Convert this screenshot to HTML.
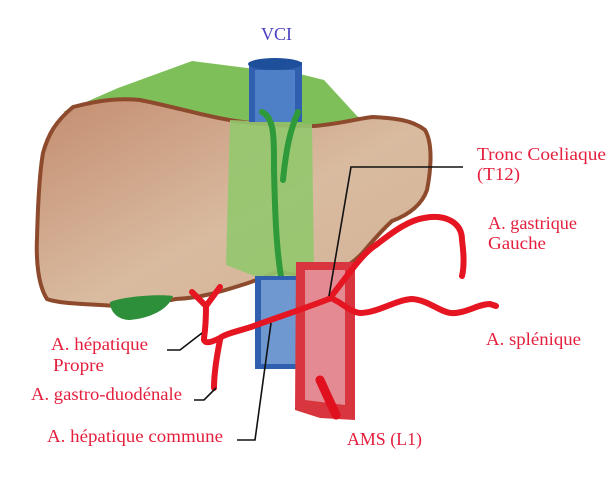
<!DOCTYPE html>
<html><head><meta charset="utf-8"><style>
html,body{margin:0;padding:0;background:#fff;width:614px;height:483px;overflow:hidden}
svg{display:block}
text{font-family:"Liberation Serif",serif;font-size:17.5px;fill:#e41e3c}
</style></head><body>
<svg width="614" height="483" viewBox="0 0 614 483" xmlns="http://www.w3.org/2000/svg">
<defs>
<linearGradient id="lv" x1="0" y1="0" x2="1" y2="1">
<stop offset="0" stop-color="#c48d70"/><stop offset="0.55" stop-color="#d9bba0"/><stop offset="1" stop-color="#d3b296"/>
</linearGradient>
</defs>
<path d="M63,112 L118,88 L192,61 L247,68 L304,75 L324,80 L357,116 L367,122 L300,130 L200,118 Z" fill="#7fbf5a"/>
<path d="M73,107 C100,100 118,98 140,100 C180,108 210,118 243,122 C280,126 300,126 314,126 C340,124 360,118 373,117 C395,118 412,120 425,130 C434,145 430,175 427,190 C420,210 400,218 392,221 C380,232 372,242 365,250 C355,262 345,268 330,274 C310,278 295,274 278,272 C265,276 258,280 245,284 C220,292 200,298 176,299 C150,304 130,306 118,306 C90,304 60,304 47,299 C38,285 36,260 37,238 C38,200 40,170 43,153 C48,135 55,122 73,107 Z" fill="url(#lv)" stroke="#8e4a2c" stroke-width="4"/>
<path d="M230,120 L312,124 L314,272 L290,285 L270,282 L226,265 Z" fill="#94c86e" opacity="0.9"/>
<rect x="249" y="62" width="53" height="60" fill="#2f5fae"/>
<rect x="255" y="70" width="40" height="52" fill="#4d80c6"/>
<ellipse cx="275" cy="64" rx="27" ry="6" fill="#1e4f9a"/>
<path d="M262,112 C275,118 274,140 274,170 C275,210 276,250 282,282 M298,112 C290,130 286,150 283,180" fill="none" stroke="#2f9a3a" stroke-width="6" stroke-linecap="round"/>
<path d="M110,302 C125,296 160,294 173,296 C168,310 150,318 130,320 C118,320 110,312 110,302 Z" fill="#2e8f3a"/>
<rect x="255" y="276" width="47" height="93" fill="#2f5fae"/>
<rect x="261" y="280" width="35" height="84" fill="#6f98d0"/>
<path d="M296,262 L355,262 L355,420 L320,418 L295,410 Z" fill="#d9353f"/>
<path d="M305,270 L345,270 L345,405 L305,400 Z" fill="#e48a92"/>
<path d="M320,380 L336,415" stroke="#e0101f" stroke-width="9" stroke-linecap="round"/>
<g fill="none" stroke="#e51522" stroke-width="6" stroke-linecap="round" stroke-linejoin="round">
<path d="M329,299 C300,310 270,320 251,327 C235,332 225,334 220,338 C212,342 206,344 204,340"/>
<path d="M204,338 C206,325 206,314 206,306 L192,292 M206,306 L220,287"/>
<path d="M220,340 C216,360 214,375 214,388"/>
<path d="M329,299 C345,280 360,255 376,245 C395,230 410,220 424,218 C445,214 462,222 462,240 C464,255 464,268 462,276"/>
<path d="M333,299 C345,305 352,313 361,313 C380,312 395,300 412,299 C428,300 440,312 451,313 C465,314 478,304 490,304 L496,306"/>
</g>
<g fill="none" stroke="#111" stroke-width="1.6">
<path d="M463,167 L351,167 L329,296"/>
<path d="M167,350 L180,350 L202,333"/>
<path d="M194,400 L204,400 L216,388"/>
<path d="M237,440 L255,440 L271,323"/>
</g>
<text x="261" y="40" textLength="31" lengthAdjust="spacingAndGlyphs" style="fill:#4a3fc0">VCI</text>
<text x="477" y="160" textLength="129" lengthAdjust="spacingAndGlyphs">Tronc Coeliaque</text>
<text x="477" y="180" textLength="43" lengthAdjust="spacingAndGlyphs">(T12)</text>
<text x="488" y="229" textLength="89" lengthAdjust="spacingAndGlyphs">A. gastrique</text>
<text x="488" y="249" textLength="58" lengthAdjust="spacingAndGlyphs">Gauche</text>
<text x="486" y="345" textLength="95" lengthAdjust="spacingAndGlyphs">A. splénique</text>
<text x="51" y="350" textLength="97" lengthAdjust="spacingAndGlyphs">A. hépatique</text>
<text x="53" y="371" textLength="51" lengthAdjust="spacingAndGlyphs">Propre</text>
<text x="31" y="400" textLength="151" lengthAdjust="spacingAndGlyphs">A. gastro-duodénale</text>
<text x="47" y="442" textLength="176" lengthAdjust="spacingAndGlyphs">A. hépatique commune</text>
<text x="347" y="445" textLength="75" lengthAdjust="spacingAndGlyphs">AMS (L1)</text>
</svg>
</body></html>
